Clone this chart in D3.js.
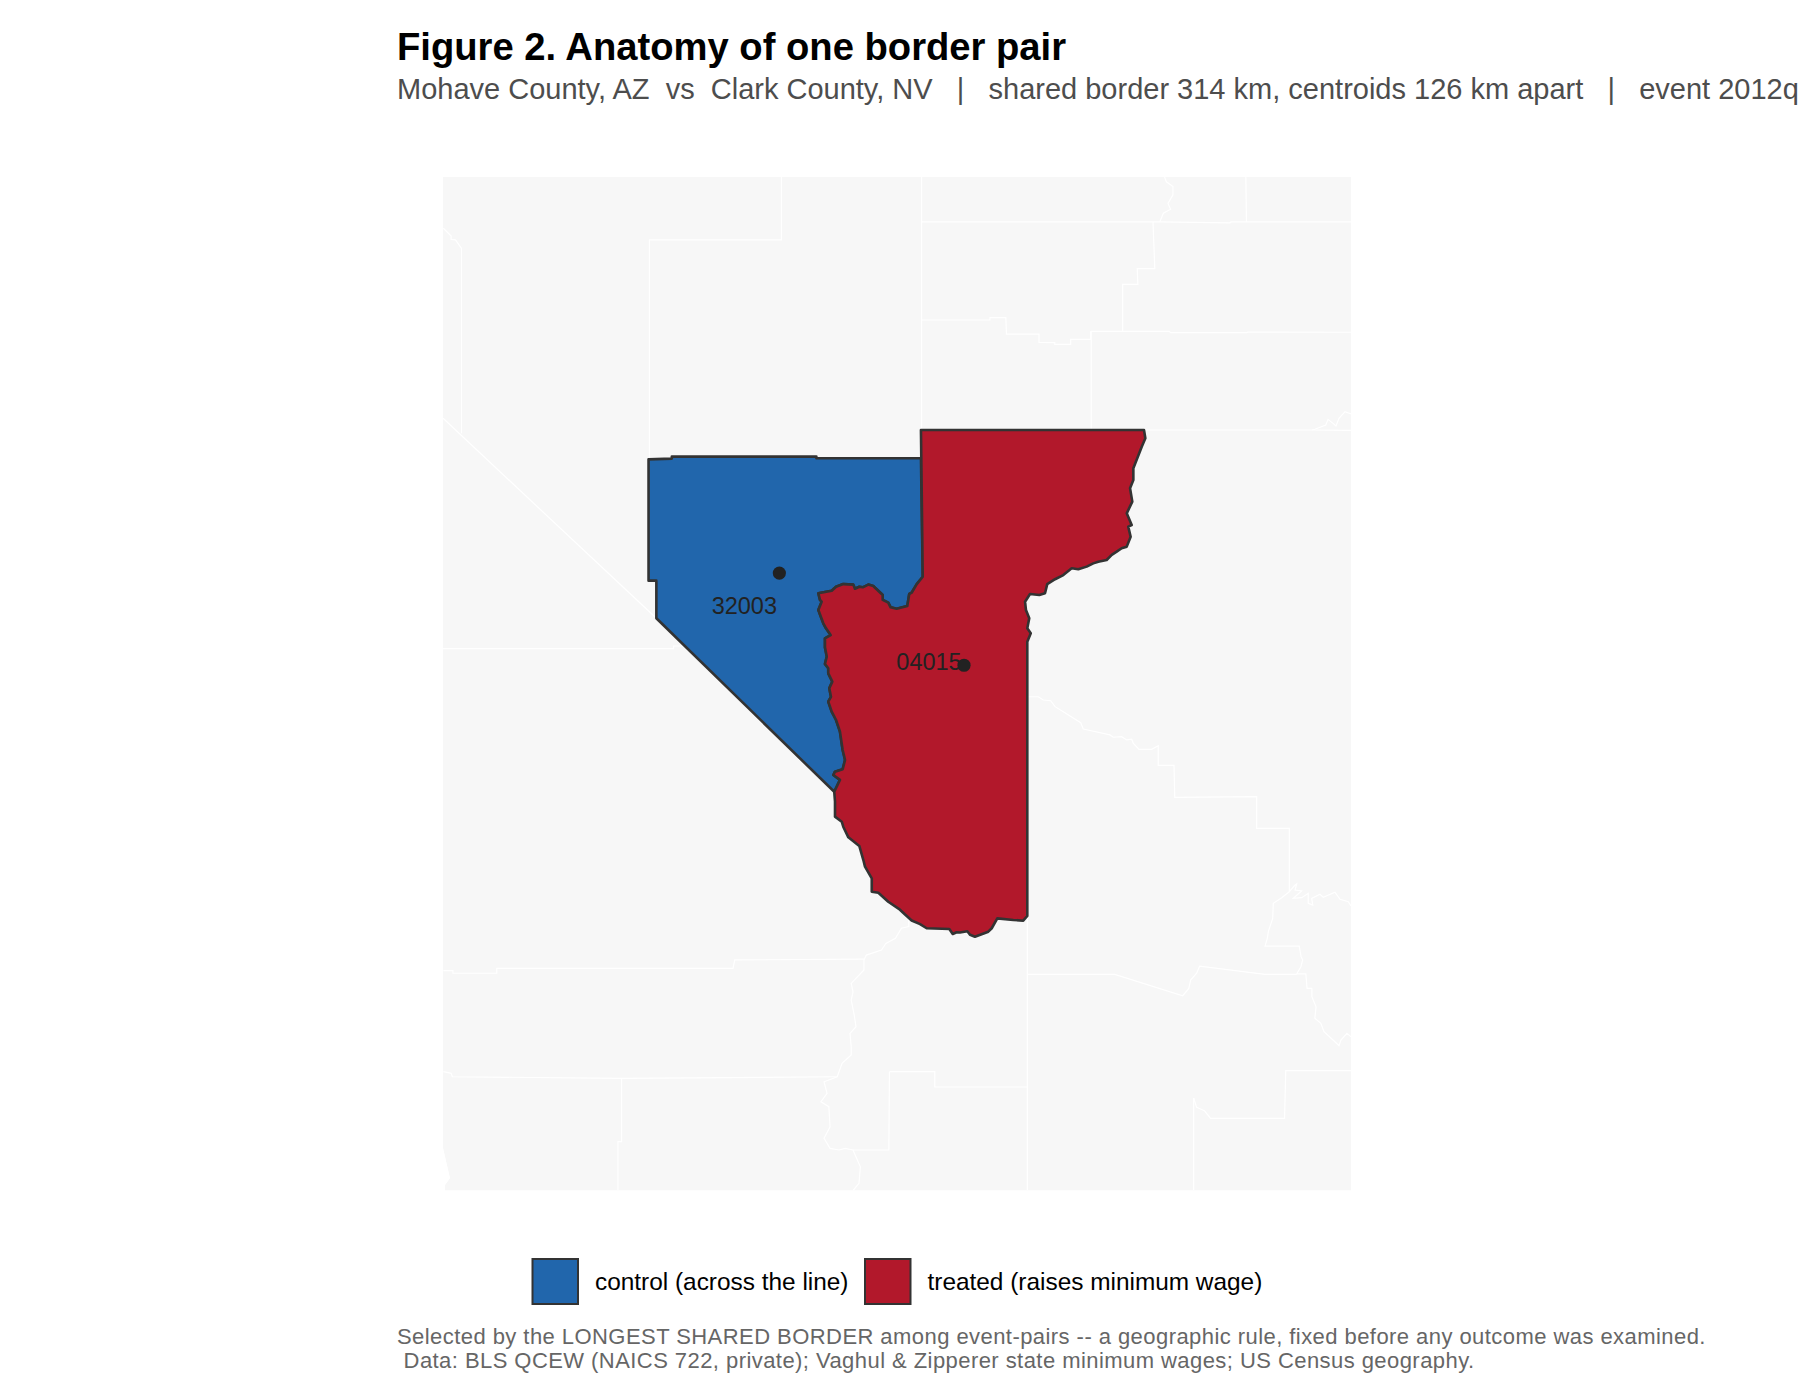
<!DOCTYPE html>
<html>
<head>
<meta charset="utf-8">
<script src="https://cdn.jsdelivr.net/npm/d3@7/dist/d3.min.js"></script>
<style>
html,body{margin:0;padding:0;background:#fff;overflow:hidden}
svg{display:block}
text{font-family:"Liberation Sans",Arial,sans-serif;white-space:pre}
</style>
</head>
<body>
<svg id="chart" width="1800" height="1400"></svg>
<script>
// ---- text ----
const titleText = "Figure 2. Anatomy of one border pair";
const subtitleText = "Mohave County, AZ  vs  Clark County, NV   |   shared border 314 km, centroids 126 km apart   |   event 2012q";
const captionLines = [
  "Selected by the LONGEST SHARED BORDER among event-pairs -- a geographic rule, fixed before any outcome was examined.",
  " Data: BLS QCEW (NAICS 722, private); Vaghul & Zipperer state minimum wages; US Census geography."
];
const legendLabels = ["control (across the line)", "treated (raises minimum wage)"];

// ---- geography: [longitude, latitude] ----
const mapExtentLon = [-117, -111];
const mapExtentLat = [37, 34];

const landOutline = [[-117.223,38.406],[-111.17,38.406],[-111.17,32.775],[-117.21,32.775],[-117.21,32.806],[-117.177,32.844],[-117.19,32.889],[-117.223,33.009]];

// Colorado River, the shared border, north to south
const sharedBorder = [[-114.025,36.185],[-114.065,36.144],[-114.099,36.096],[-114.115,36.089],[-114.128,36.022],[-114.199,36.007],[-114.239,36.015],[-114.255,36.041],[-114.292,36.056],[-114.292,36.083],[-114.355,36.133],[-114.388,36.141],[-114.425,36.126],[-114.448,36.129],[-114.477,36.118],[-114.488,36.141],[-114.555,36.144],[-114.603,36.129],[-114.632,36.107],[-114.721,36.093],[-114.71,36.056],[-114.699,36.046],[-114.721,36.0],[-114.688,35.926],[-114.67,35.898],[-114.639,35.861],[-114.677,35.843],[-114.677,35.793],[-114.665,35.741],[-114.677,35.7],[-114.655,35.676],[-114.655,35.648],[-114.628,35.602],[-114.648,35.565],[-114.637,35.518],[-114.655,35.491],[-114.632,35.435],[-114.603,35.389],[-114.577,35.324],[-114.559,35.222],[-114.543,35.167],[-114.559,35.115],[-114.61,35.102],[-114.621,35.083],[-114.577,35.056],[-114.615,34.99]];

const clarkNorthWest = [[-115.801,35.954],[-115.801,36.163],[-115.853,36.163],[-115.853,36.837],[-115.698,36.841],[-115.698,36.852],[-114.734,36.852],[-114.734,36.843],[-114.037,36.843]];

const mohaveEastSouth = [[-114.037,37],[-112.55,37],[-112.541,36.954],[-112.565,36.907],[-112.595,36.843],[-112.621,36.787],[-112.621,36.722],[-112.643,36.676],[-112.628,36.602],[-112.665,36.537],[-112.632,36.472],[-112.655,36.463],[-112.639,36.407],[-112.665,36.352],[-112.699,36.343],[-112.732,36.324],[-112.765,36.306],[-112.799,36.278],[-112.855,36.268],[-112.888,36.259],[-112.932,36.241],[-112.988,36.226],[-113.032,36.232],[-113.088,36.194],[-113.143,36.171],[-113.195,36.144],[-113.21,36.093],[-113.248,36.083],[-113.31,36.089],[-113.343,36.046],[-113.337,36],[-113.315,35.954],[-113.328,35.898],[-113.305,35.871],[-113.328,35.824],[-113.328,34.3],[-113.355,34.274],[-113.421,34.278],[-113.528,34.287],[-113.565,34.232],[-113.588,34.213],[-113.677,34.185],[-113.71,34.196],[-113.728,34.215],[-113.777,34.208],[-113.799,34.21],[-113.825,34.2],[-113.848,34.228],[-113.999,34.232],[-114.043,34.255],[-114.099,34.275],[-114.143,34.308],[-114.177,34.335],[-114.255,34.379],[-114.321,34.429],[-114.365,34.435],[-114.365,34.509],[-114.41,34.574],[-114.421,34.611],[-114.448,34.689],[-114.521,34.737],[-114.555,34.796],[-114.565,34.824],[-114.61,34.852],[-114.61,34.935]];

// neighbouring county lines
const neighbourLines = [
  [[-114.967,38.406],[-114.967,38.056],[-115.847,38.056],[-115.847,36.844]],
  [[-114.033,38.406],[-114.033,37]],
  [[-114.033,38.156],[-112.445,38.156],[-111.977,38.151],[-111.97,38.156],[-111.17,38.156]],
  [[-112.413,38.406],[-112.401,38.379],[-112.357,38.352],[-112.357,38.306],[-112.39,38.259],[-112.373,38.226],[-112.421,38.204],[-112.445,38.156]],
  [[-111.871,38.406],[-111.867,38.156]],
  [[-112.49,38.156],[-112.482,37.982],[-112.478,37.896],[-112.595,37.896],[-112.591,37.809],[-112.692,37.809],[-112.692,37.548]],
  [[-114.033,37.611],[-113.577,37.611],[-113.577,37.624],[-113.471,37.624],[-113.467,37.533],[-113.25,37.533],[-113.25,37.487],[-113.145,37.485],[-113.145,37.476],[-113.039,37.476],[-113.039,37.504],[-112.906,37.504],[-112.906,37.548]],
  [[-112.906,37.548],[-112.381,37.548],[-112.373,37.541],[-111.867,37.541],[-111.857,37.544],[-111.17,37.543]],
  [[-112.902,37.548],[-112.902,37]],
  [[-112.543,37],[-111.431,37],[-111.17,36.998]],
  [[-111.431,37],[-111.411,37.004],[-111.338,37.028],[-111.323,37.059],[-111.29,37.037],[-111.27,37.022],[-111.25,37.065],[-111.21,37.102],[-111.17,37.089]],
  [[-117.221,38.121],[-117.169,38.078],[-117.169,38.059],[-117.14,38.056],[-117.1,38.009],[-117.1,36.982]],
  [[-117.223,37.065],[-115.801,35.954]],
  [[-117.223,35.785],[-115.686,35.785],[-115.686,35.8],[-115.603,35.8]],
  [[-113.328,35.518],[-113.255,35.518],[-113.221,35.5],[-113.172,35.496],[-113.143,35.463],[-113.088,35.435],[-112.972,35.374],[-112.955,35.339],[-112.777,35.306],[-112.755,35.293],[-112.699,35.296],[-112.665,35.278],[-112.632,35.282],[-112.621,35.259],[-112.583,35.226],[-112.499,35.226],[-112.455,35.246],[-112.455,35.137],[-112.35,35.137],[-112.345,34.959],[-111.799,34.963],[-111.799,34.787],[-111.581,34.787],[-111.581,34.435]],
  [[-111.581,34.435],[-111.543,34.472],[-111.532,34.478],[-111.543,34.444],[-111.499,34.439],[-111.555,34.398],[-111.499,34.402],[-111.455,34.426],[-111.455,34.371],[-111.425,34.361],[-111.432,34.398],[-111.377,34.421],[-111.355,34.404],[-111.277,34.432],[-111.243,34.393],[-111.188,34.379],[-111.17,34.356]],
  [[-111.581,34.435],[-111.632,34.402],[-111.688,34.371],[-111.692,34.287],[-111.721,34.213],[-111.728,34.176],[-111.743,34.133],[-111.515,34.133],[-111.503,34.074],[-111.492,34.056],[-111.504,34.018],[-111.532,33.978],[-111.471,33.978],[-111.463,33.898],[-111.431,33.898],[-111.431,33.852],[-111.403,33.796],[-111.411,33.732],[-111.371,33.704],[-111.35,33.657],[-111.29,33.611],[-111.25,33.579],[-111.237,33.611],[-111.197,33.648],[-111.17,33.629]],
  [[-113.328,33.976],[-112.745,33.976],[-112.292,33.857],[-112.251,33.898],[-112.239,33.944],[-112.199,33.982],[-112.179,34.022],[-111.743,33.976],[-111.532,33.976]],
  [[-113.328,34.3],[-113.328,32.775]],
  [[-114.247,33.435],[-113.945,33.435],[-113.945,33.35],[-113.328,33.35]],
  [[-114.247,33.435],[-114.251,33.0],[-114.49,33.0]],
  [[-114.118,34.278],[-114.118,34.241],[-114.167,34.232],[-114.207,34.176],[-114.271,34.148],[-114.3,34.111],[-114.401,34.083],[-114.417,34.056],[-114.417,34.0],[-114.502,33.926],[-114.49,33.879],[-114.502,33.833],[-114.482,33.75],[-114.47,33.685],[-114.51,33.648],[-114.502,33.574],[-114.502,33.528],[-114.563,33.482],[-114.595,33.407],[-114.683,33.379],[-114.663,33.315],[-114.704,33.268],[-114.651,33.241],[-114.643,33.129],[-114.683,33.065],[-114.643,33.009],[-114.583,33],[-114.543,33.009],[-114.49,33],[-114.461,32.944],[-114.441,32.907],[-114.45,32.815],[-114.49,32.775]],
  [[-117.221,33.996],[-117.157,33.996],[-117.157,33.982],[-116.865,33.982],[-116.865,34.009],[-115.29,34.009],[-115.278,34.056],[-114.417,34.06]],
  [[-117.221,33.435],[-117.169,33.426],[-117.161,33.407],[-116.033,33.398],[-114.595,33.407]],
  [[-116.033,33.398],[-116.033,33.046],[-116.057,33.046],[-116.057,32.775]],
  [[-112.219,33.289],[-112.219,32.775]],
  [[-112.219,33.289],[-112.199,33.237],[-112.147,33.218],[-112.106,33.176],[-111.613,33.176],[-111.605,33.441],[-111.17,33.441]]
];

const groupNames = ["control", "treated"];
const groupColors = ["#2166ac", "#b2182b"];
const centroidIds = ["32003", "04015"];
const centroidLon = [-114.981, -113.75];
const centroidLat = [36.205, 35.693];

// ---- layout ----
const svg = d3.select("#chart");
const x = d3.scaleLinear().domain(mapExtentLon).range([476.5, 1376.5]);
const y = d3.scaleLinear().domain(mapExtentLat).range([430, 970]);
const line = d3.line().x(d => x(d[0])).y(d => y(d[1]));
const ring = d3.line().x(d => x(d[0])).y(d => y(d[1])).curve(d3.curveLinearClosed);

svg.append("text").attr("x", 397).attr("y", 60)
  .attr("font-size", 38.2).attr("font-weight", "bold").attr("fill", "#000").text(titleText);
svg.append("text").attr("x", 397).attr("y", 99)
  .attr("font-size", 29).attr("fill", "#4d4d4d").text(subtitleText);

// ---- map ----
svg.append("defs").append("clipPath").attr("id", "panel")
  .append("path").attr("d", ring(landOutline));
const map = svg.append("g").attr("clip-path", "url(#panel)");
map.append("path").attr("d", ring(landOutline)).attr("fill", "#f7f7f7");
map.append("g").selectAll("path").data(neighbourLines).join("path")
  .attr("d", line).attr("fill", "none").attr("stroke", "#ffffff").attr("stroke-width", 1.2);

const clarkRing = clarkNorthWest.concat(sharedBorder);
const mohaveRing = mohaveEastSouth.concat(sharedBorder.slice().reverse());
const counties = [clarkRing, mohaveRing];
svg.append("g").selectAll("path").data(counties).join("path")
  .attr("d", ring)
  .attr("fill", (d, i) => groupColors[i])
  .attr("stroke", "#333333").attr("stroke-width", 2.6).attr("stroke-linejoin", "round");

// ---- centroids ----
const labelNudge = [[-35, 41], [-35, 4.5]];
const cg = svg.append("g");
cg.selectAll("circle").data(centroidIds).join("circle")
  .attr("cx", (d, i) => x(centroidLon[i])).attr("cy", (d, i) => y(centroidLat[i]))
  .attr("r", 6.6).attr("fill", "#222222");
cg.selectAll("text").data(centroidIds).join("text")
  .attr("x", (d, i) => x(centroidLon[i]) + labelNudge[i][0])
  .attr("y", (d, i) => y(centroidLat[i]) + labelNudge[i][1])
  .attr("text-anchor", "middle").attr("font-size", 23.5).attr("fill", "#222222").text(d => d);

// ---- legend ----
const keyX = [532.5, 865];
const lg = svg.append("g");
lg.selectAll("rect").data(groupNames).join("rect")
  .attr("x", (d, i) => keyX[i]).attr("y", 1259).attr("width", 45.5).attr("height", 45)
  .attr("fill", (d, i) => groupColors[i]).attr("stroke", "#333333").attr("stroke-width", 2);
lg.selectAll("text").data(legendLabels).join("text")
  .attr("x", (d, i) => keyX[i] + 62.5).attr("y", 1290)
  .attr("font-size", 24.4).attr("fill", "#000").text(d => d);

// ---- caption ----
svg.append("g").selectAll("text").data(captionLines).join("text")
  .attr("x", 397).attr("y", (d, i) => 1344 + i * 23.5)
  .attr("font-size", 22).attr("letter-spacing", 0.44).attr("fill", "#666666").text(d => d);
</script>
</body>
</html>
